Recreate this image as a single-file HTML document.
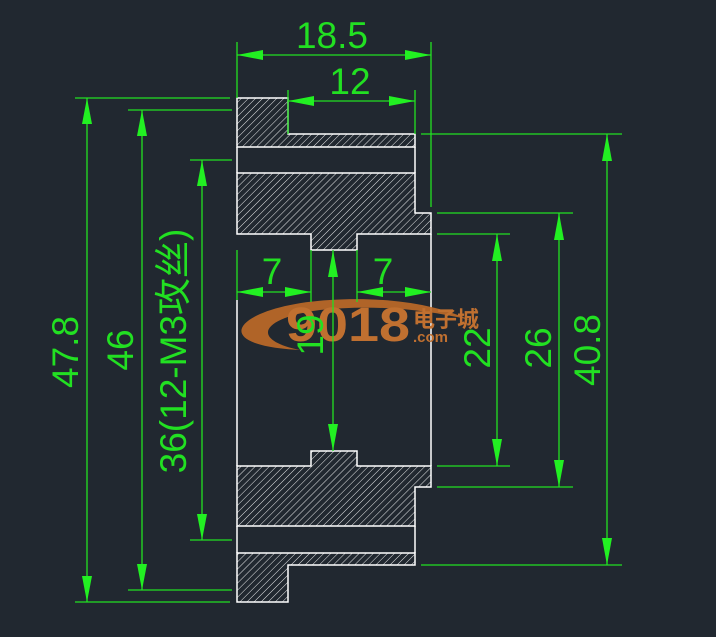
<!DOCTYPE html>
<html><head><meta charset="utf-8"><style>html,body{margin:0;padding:0;background:#212830;}svg{display:block}</style></head>
<body>
<svg width="716" height="637" viewBox="0 0 716 637" xmlns="http://www.w3.org/2000/svg">
<defs>
<pattern id="h" width="5" height="5" patternUnits="userSpaceOnUse" patternTransform="rotate(45)">
<line x1="0" y1="0" x2="0" y2="5" stroke="#fff" stroke-width="0.9"/>
</pattern>
</defs>
<rect width="716" height="637" fill="#212830"/>
<g stroke="#fff" stroke-width="1.5" fill="url(#h)">
<path d="M237,98 H288 V134 H415 V147 H237 Z"/>
<path d="M237,173 H415 V213 H431 V234 H357 V250 H311 V234 H237 Z"/>
<path d="M311,451 H357 V466 H431 V487 H415 V526 H237 V466 H311 Z"/>
<path d="M237,553 H415 V565 H288 V602 H237 Z"/>
</g>
<g stroke="#fff" stroke-width="1.5" fill="none">
<line x1="237" y1="147" x2="237" y2="173"/><line x1="415" y1="147" x2="415" y2="173"/>
<line x1="237" y1="526" x2="237" y2="553"/><line x1="415" y1="526" x2="415" y2="553"/>
<line x1="237" y1="300" x2="237" y2="466"/><line x1="431" y1="234" x2="431" y2="466"/>
</g>
<g>
<path d="M300,350 C200,345 240,305 330,300 C380,297 430,302 470,320 C420,308 370,305 320,310 C260,318 250,340 300,350 Z" fill="#c06a28" opacity="0.9"/>
<text x="286" y="341" font-family="Liberation Sans, sans-serif" font-weight="bold" font-size="48" fill="#c07030" textLength="124" lengthAdjust="spacingAndGlyphs">9018</text>
<text x="413" y="327" font-family="Liberation Sans, Noto Sans CJK SC, sans-serif" font-weight="bold" font-size="22" fill="#c07030">电子城</text>
<text x="413" y="342" font-family="Liberation Sans, sans-serif" font-weight="bold" font-size="15" fill="#c07030">.com</text>
</g>
<g stroke="#22e022" stroke-width="1.3" fill="none">
<line x1="237" y1="42" x2="237" y2="98"/><line x1="431" y1="42" x2="431" y2="207"/>
<line x1="237" y1="55" x2="431" y2="55"/>
<line x1="288" y1="90" x2="288" y2="134"/><line x1="415" y1="90" x2="415" y2="134"/>
<line x1="288" y1="101" x2="415" y2="101"/>
<line x1="75" y1="98" x2="230" y2="98"/><line x1="75" y1="602" x2="230" y2="602"/>
<line x1="87" y1="98" x2="87" y2="602"/>
<line x1="128" y1="110" x2="232" y2="110"/><line x1="128" y1="590" x2="232" y2="590"/>
<line x1="142" y1="110" x2="142" y2="590"/>
<line x1="190" y1="160" x2="232" y2="160"/><line x1="190" y1="540" x2="232" y2="540"/>
<line x1="202" y1="160" x2="202" y2="540"/>
<line x1="421" y1="134" x2="622" y2="134"/><line x1="421" y1="565" x2="622" y2="565"/>
<line x1="607" y1="134" x2="607" y2="565"/>
<line x1="437" y1="213" x2="573" y2="213"/><line x1="437" y1="487" x2="573" y2="487"/>
<line x1="559" y1="213" x2="559" y2="487"/>
<line x1="437" y1="234" x2="510" y2="234"/><line x1="437" y1="466" x2="510" y2="466"/>
<line x1="497" y1="234" x2="497" y2="466"/>
<line x1="333" y1="250" x2="333" y2="451"/>
<line x1="311" y1="250" x2="311" y2="302"/><line x1="357" y1="250" x2="357" y2="302"/>
<line x1="237" y1="250" x2="237" y2="300"/>
<line x1="237" y1="292" x2="311" y2="292"/><line x1="357" y1="292" x2="431" y2="292"/>
</g>
<g fill="#22f022">
<path d="M237,55 l26,-5 v10z"/><path d="M431,55 l-26,-5 v10z"/>
<path d="M288,101 l26,-5 v10z"/><path d="M415,101 l-26,-5 v10z"/>
<path d="M87,98 l-5,26 h10z"/><path d="M87,602 l-5,-26 h10z"/>
<path d="M142,110 l-5,26 h10z"/><path d="M142,590 l-5,-26 h10z"/>
<path d="M202,160 l-5,26 h10z"/><path d="M202,540 l-5,-26 h10z"/>
<path d="M607,134 l-5,27 h10z"/><path d="M607,565 l-5,-27 h10z"/>
<path d="M559,213 l-5,27 h10z"/><path d="M559,487 l-5,-27 h10z"/>
<path d="M497,234 l-5,27 h10z"/><path d="M497,466 l-5,-27 h10z"/>
<path d="M333,250 l-5,27 h10z"/><path d="M333,451 l-5,-27 h10z"/>
<path d="M237,292 l26,-5 v10z"/><path d="M311,292 l-26,-5 v10z"/>
<path d="M357,292 l26,-5 v10z"/><path d="M431,292 l-26,-5 v10z"/>
</g>
<g font-family="Liberation Sans, Noto Sans CJK SC, sans-serif" font-size="37" fill="#22e022" text-anchor="middle">
<text x="332" y="48">18.5</text>
<text x="350" y="94">12</text>
<text x="272" y="284">7</text>
<text x="383" y="284">7</text>
<text transform="translate(78,352) rotate(-90)">47.8</text>
<text transform="translate(133,350) rotate(-90)">46</text>
<text transform="translate(186,351) rotate(-90)">36(12-M3攻丝)</text>
<text transform="translate(323,335) rotate(-90)">19</text>
<text transform="translate(490,348) rotate(-90)">22</text>
<text transform="translate(551,348) rotate(-90)">26</text>
<text transform="translate(600,350) rotate(-90)">40.8</text>
</g>
</svg>
</body></html>
